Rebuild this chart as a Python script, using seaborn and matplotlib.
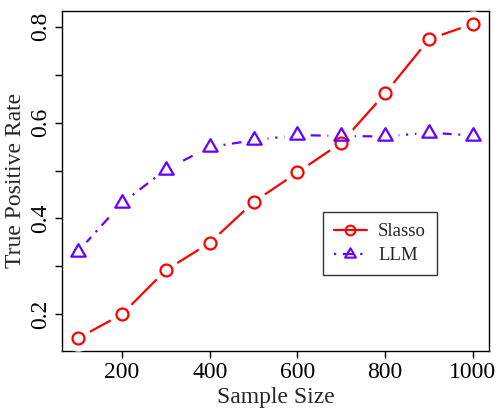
import numpy as np
import pandas as pd
import seaborn as sns
import matplotlib.pyplot as plt
from matplotlib.path import Path

sample_size = [100, 200, 300, 400, 500, 600, 700, 800, 900, 1000]
slasso_tpr = [0.150, 0.200, 0.292, 0.349, 0.434, 0.496, 0.558, 0.661, 0.774, 0.806]
llm_tpr = [0.331, 0.432, 0.502, 0.549, 0.563, 0.574, 0.572, 0.571, 0.579, 0.573]
x_ticks = [200, 400, 600, 800, 1000]
y_ticks = [0.2, 0.3, 0.4, 0.5, 0.6, 0.7, 0.8]
y_labels = ["0.2", "", "0.4", "", "0.6", "", "0.8"]

RED = "#FF0000"
PURPLE = "#6600FF"


def main():
    df = pd.DataFrame({"n": sample_size, "Slasso": slasso_tpr, "LLM": llm_tpr})

    sns.set_style("ticks")
    plt.rcParams["font.family"] = ["Liberation Serif", "DejaVu Serif"]

    fig = plt.figure(figsize=(4.99, 4.11), dpi=100)
    ax = fig.add_axes([0.1248, 0.1467, 0.8546, 0.8265])

    tri = Path([(0, 1), (-0.866, -0.5), (0.866, -0.5), (0, 1)],
               [Path.MOVETO, Path.LINETO, Path.LINETO, Path.CLOSEPOLY])

    # lines first
    sns.lineplot(data=df, x="n", y="Slasso", color=RED, lw=1.6, ax=ax, zorder=2)
    sns.lineplot(data=df, x="n", y="LLM", color=PURPLE, lw=1.6, ax=ax, zorder=2,
                 dashes=False)
    ax.lines[-1].set_dashes((1, 3, 4.8, 3))

    # white masks to get the R type="b" gaps around points
    for col in ["Slasso", "LLM"]:
        ax.plot(df["n"], df[col], ls="none", marker="o", ms=19,
                mfc="white", mec="none", zorder=3)

    # open markers
    ax.plot(df["n"], df["Slasso"], ls="none", marker="o", ms=8.6,
            mfc="none", mec=RED, mew=1.6, zorder=4)
    ax.plot(df["n"], df["LLM"], ls="none", marker=tri, ms=12,
            mfc="none", mec=PURPLE, mew=1.6, zorder=4)

    # legend proxies
    h1, = ax.plot([], [], color=RED, lw=1.6, marker="o", ms=7, mfc="none",
                  mec=RED, mew=1.5)
    h2, = ax.plot([], [], color=PURPLE, lw=1.6, marker=tri, ms=9, mfc="none",
                  mec=PURPLE, mew=1.5, dashes=(1, 3, 4.8, 3))
    leg = ax.legend([h1, h2], ["Slasso", "LLM"], loc="upper left",
                    bbox_to_anchor=(0.611, 0.408), fontsize=13.5, frameon=True,
                    fancybox=False, edgecolor="black", handlelength=1.75,
                    handletextpad=0.6, borderpad=0.6, labelspacing=0.35,
                    borderaxespad=0)
    leg.get_frame().set_linewidth(1.0)

    ax.set_xlim(64, 1036)
    ax.set_ylim(0.124, 0.8328)
    ax.set_xticks(x_ticks)
    ax.set_yticks(y_ticks)
    ax.set_yticklabels(y_labels, rotation=90, va="center")
    ax.tick_params(axis="both", direction="out", length=5, width=1,
                   labelsize=17, colors="black", pad=3)
    ax.set_xlabel("Sample Size", fontsize=17, labelpad=3)
    ax.set_ylabel("True Positive Rate", fontsize=17, labelpad=3)
    for s in ax.spines.values():
        s.set_visible(True)
        s.set_linewidth(1.0)
        s.set_color("black")

    fig.savefig("out.png", dpi=100)


if __name__ == "__main__":
    main()
